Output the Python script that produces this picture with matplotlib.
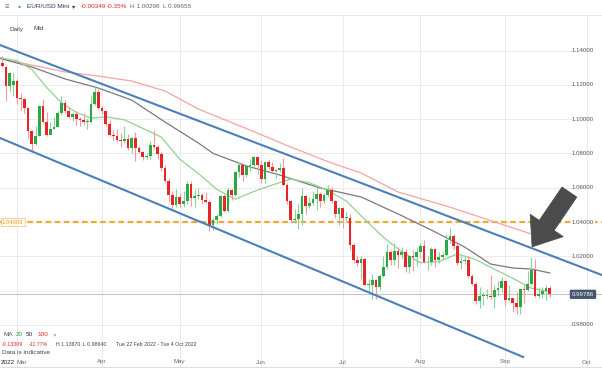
import numpy as np
import pandas as pd
import matplotlib
matplotlib.use("Agg")
import matplotlib.pyplot as plt
import matplotlib.transforms as mtransforms
from matplotlib.patches import Polygon

plt.rcParams['font.family'] = ['Liberation Sans', 'DejaVu Sans']

#
# EUR/USD Mini, daily candles with 20/50/100 MAs and a falling channel
#

# trading days shown on the axis (22 Feb -> 4 Oct 2022), candles stop at 19 Sep
axis_dates = pd.bdate_range("2022-02-22", "2022-10-04")

open_ = [1.1310, 1.1330, 1.1305, 1.1195, 1.1200,
         1.1220, 1.1125, 1.1120, 1.1065, 1.0930, 1.0855, 1.0900, 1.1075, 1.0985, 1.0910,
         1.0940, 1.0955, 1.1035, 1.1095, 1.1050, 1.1015, 1.1030, 1.1000, 1.0995, 1.0985, 1.0985,
         1.1090, 1.1160,
         1.1065, 1.1045, 1.0970, 1.0905, 1.0900, 1.0880, 1.0875, 1.0885, 1.0830, 1.0890, 1.0830,
         1.0810, 1.0780, 1.0785, 1.0850, 1.0835, 1.0795, 1.0715, 1.0640, 1.0560, 1.0500,
         1.0545, 1.0505, 1.0525, 1.0620, 1.0540, 1.0550, 1.0560, 1.0530, 1.0515, 1.0380, 1.0410,
         1.0435, 1.0550, 1.0465, 1.0585, 1.0560, 1.0690, 1.0735, 1.0675, 1.0725, 1.0735, 1.0780,
         1.0735, 1.0650, 1.0750, 1.0720, 1.0695, 1.0705, 1.0715, 1.0615, 1.0520, 1.0410, 1.0415,
         1.0445, 1.0550, 1.0495, 1.0510, 1.0535, 1.0565, 1.0520, 1.0555, 1.0585, 1.0520, 1.0445,
         1.0480, 1.0425, 1.0425, 1.0265, 1.0180, 1.0160, 1.0185, 1.0035, 1.0035, 1.0060, 1.0020,
         1.0085, 1.0140, 1.0225, 1.0180, 1.0230, 1.0210, 1.0225, 1.0135, 1.0200, 1.0195,
         1.0225, 1.0260, 1.0165, 1.0165, 1.0245, 1.0180, 1.0195, 1.0210, 1.0295, 1.0320, 1.0260,
         1.0160, 1.0170, 1.0180, 1.0085, 1.0040, 0.9940, 0.9970, 0.9970, 0.9970, 0.9965, 1.0005,
         1.0015,
         1.0055, 0.9945, 0.9955, 0.9930, 0.9905, 1.0010, 1.0005, 1.0040, 1.0120, 0.9970, 0.9980,
         0.9995, 1.0013]

high = [1.1360, 1.1367, 1.1310, 1.1275, 1.1270,
        1.1235, 1.1150, 1.1125, 1.1070, 1.0935, 1.0960, 1.1080, 1.1120, 1.1040, 1.0985,
        1.1015, 1.1045, 1.1135, 1.1110, 1.1070, 1.1040, 1.1045, 1.1015, 1.1035, 1.1000, 1.1135,
        1.1185, 1.1175,
        1.1075, 1.1050, 1.0995, 1.0935, 1.0940, 1.0920, 1.0960, 1.0915, 1.0895, 1.0925, 1.0845,
        1.0815, 1.0800, 1.0870, 1.0935, 1.0850, 1.0810, 1.0730, 1.0655, 1.0580, 1.0590,
        1.0570, 1.0580, 1.0640, 1.0640, 1.0590, 1.0600, 1.0570, 1.0575, 1.0530, 1.0425, 1.0445,
        1.0555, 1.0565, 1.0600, 1.0595, 1.0695, 1.0750, 1.0740, 1.0735, 1.0765, 1.0787, 1.0785,
        1.0760, 1.0750, 1.0765, 1.0750, 1.0710, 1.0745, 1.0775, 1.0625, 1.0530, 1.0475, 1.0505,
        1.0600, 1.0560, 1.0545, 1.0580, 1.0605, 1.0575, 1.0570, 1.0615, 1.0605, 1.0530, 1.0490,
        1.0485, 1.0460, 1.0445, 1.0275, 1.0210, 1.0200, 1.0190, 1.0065, 1.0095, 1.0070, 1.0095,
        1.0200, 1.0270, 1.0235, 1.0280, 1.0255, 1.0255, 1.0245, 1.0210, 1.0235, 1.0255,
        1.0275, 1.0295, 1.0200, 1.0255, 1.0250, 1.0225, 1.0225, 1.0330, 1.0368, 1.0330, 1.0270,
        1.0200, 1.0200, 1.0200, 1.0095, 1.0050, 1.0020, 0.9990, 1.0010, 1.0090, 1.0030, 1.0055,
        1.0080,
        1.0055, 1.0035, 0.9960, 0.9990, 1.0010, 1.0030, 1.0115, 1.0198, 1.0185, 1.0020, 1.0020,
        1.0035, 1.00298]

low = [1.1290, 1.1305, 1.1106, 1.1160, 1.1135,
       1.1090, 1.1055, 1.1035, 1.0890, 1.0806, 1.0850, 1.0900, 1.0980, 1.0900, 1.0920,
       1.0945, 1.0960, 1.1025, 1.1035, 1.1005, 1.0990, 1.0965, 1.0960, 1.0965, 1.0945, 1.0980,
       1.1080, 1.1060,
       1.1030, 1.0960, 1.0900, 1.0880, 1.0875, 1.0835, 1.0860, 1.0820, 1.0805, 1.0757, 1.0800,
       1.0760, 1.0765, 1.0770, 1.0825, 1.0770, 1.0700, 1.0630, 1.0515, 1.0470, 1.0490,
       1.0490, 1.0490, 1.0505, 1.0495, 1.0485, 1.0535, 1.0505, 1.0510, 1.0350, 1.0355, 1.0390,
       1.0430, 1.0460, 1.0460, 1.0530, 1.0550, 1.0660, 1.0640, 1.0660, 1.0700, 1.0720, 1.0680,
       1.0625, 1.0630, 1.0710, 1.0690, 1.0655, 1.0690, 1.0610, 1.0505, 1.0400, 1.0395, 1.0359,
       1.0380, 1.0445, 1.0480, 1.0500, 1.0470, 1.0485, 1.0510, 1.0545, 1.0510, 1.0425, 1.0380,
       1.0365, 1.0410, 1.0235, 1.0160, 1.0145, 1.0070, 1.0030, 0.9999, 0.9952, 0.9952, 1.0005,
       1.0080, 1.0125, 1.0150, 1.0150, 1.0130, 1.0185, 1.0110, 1.0100, 1.0115, 1.0145,
       1.0190, 1.0160, 1.0120, 1.0150, 1.0140, 1.0160, 1.0185, 1.0200, 1.0280, 1.0240, 1.0150,
       1.0125, 1.0155, 1.0075, 1.0035, 0.9925, 0.9900, 0.9915, 0.9950, 0.9950, 0.9900, 0.9970,
       0.9990,
       0.9910, 0.9940, 0.9876, 0.9865, 0.9864, 0.9930, 1.0000, 1.0040, 0.9965, 0.9955, 0.9955,
       0.9945, 0.99655]

close = [1.1330, 1.1310, 1.1195, 1.1270, 1.1220,
         1.1125, 1.1120, 1.1065, 1.0930, 1.0855, 1.0900, 1.1075, 1.0985, 1.0910, 1.0940,
         1.0955, 1.1035, 1.1095, 1.1050, 1.1015, 1.1030, 1.1000, 1.0995, 1.0985, 1.0985, 1.1090,
         1.1160, 1.1065,
         1.1045, 1.0970, 1.0905, 1.0900, 1.0880, 1.0875, 1.0885, 1.0830, 1.0890, 1.0830, 1.0810,
         1.0780, 1.0785, 1.0850, 1.0835, 1.0795, 1.0715, 1.0640, 1.0560, 1.0500, 1.0545,
         1.0505, 1.0525, 1.0620, 1.0540, 1.0550, 1.0560, 1.0530, 1.0515, 1.0380, 1.0410, 1.0435,
         1.0550, 1.0465, 1.0585, 1.0560, 1.0690, 1.0735, 1.0675, 1.0725, 1.0735, 1.0780, 1.0735,
         1.0650, 1.0750, 1.0720, 1.0695, 1.0705, 1.0715, 1.0615, 1.0520, 1.0410, 1.0415, 1.0445,
         1.0550, 1.0495, 1.0510, 1.0535, 1.0565, 1.0520, 1.0555, 1.0585, 1.0520, 1.0445, 1.0480,
         1.0425, 1.0425, 1.0265, 1.0180, 1.0160, 1.0185, 1.0035, 1.0035, 1.0060, 1.0020, 1.0085,
         1.0140, 1.0225, 1.0180, 1.0230, 1.0210, 1.0225, 1.0135, 1.0200, 1.0195, 1.0225,
         1.0260, 1.0165, 1.0165, 1.0245, 1.0180, 1.0195, 1.0210, 1.0295, 1.0320, 1.0260, 1.0160,
         1.0170, 1.0180, 1.0085, 1.0040, 0.9940, 0.9970, 0.9970, 0.9970, 0.9965, 1.0005, 1.0015,
         1.0055,
         0.9945, 0.9955, 0.9930, 0.9905, 1.0010, 1.0005, 1.0040, 1.0120, 0.9970, 0.9980, 0.9995,
         1.0013, 0.99786]

# moving averages (trading-day index, price)
ma20_idx = [0, 5, 9, 13, 17, 21, 25, 29, 34, 39, 44, 49, 54, 59, 64, 69, 74, 79, 84, 89,
            94, 99, 104, 109, 114, 119, 124, 129, 134, 139, 144, 149]
ma20_val = [1.1360, 1.1340, 1.1290, 1.1185, 1.1095, 1.1040, 1.1005, 1.1014, 1.0996, 1.0946,
            1.0895, 1.0766, 1.0683, 1.0590, 1.0533, 1.0578, 1.0616, 1.0651, 1.0629, 1.0585,
            1.0522, 1.0415, 1.0311, 1.0227, 1.0163, 1.0169, 1.0214, 1.0181, 1.0125, 1.0072,
            1.0014, 0.9995]
ma50_idx = [0, 9, 18, 27, 36, 45, 54, 58, 67, 76, 87, 92, 98, 108, 117, 126, 133, 139, 144, 149]
ma50_val = [1.1356, 1.1304, 1.1234, 1.1181, 1.1111, 1.0983, 1.0861, 1.0800, 1.0727, 1.0674,
            1.0598, 1.0575, 1.0546, 1.0447, 1.0353, 1.0254, 1.0155, 1.0132, 1.0126, 1.0103]
ma100_idx = [0, 9, 18, 27, 36, 45, 54, 68, 79, 90, 98, 108, 122, 135, 149]
ma100_val = [1.1356, 1.1315, 1.1275, 1.1251, 1.1222, 1.1164, 1.1059, 1.0936, 1.0837, 1.0744,
             1.0686, 1.0575, 1.0487, 1.0394, 1.0295]

# drawn channel (start / end points)
upper_idx = [0.4, 163.1]
upper_val = [1.1432, 1.0091]
lower_idx = [0.4, 141.8]
lower_val = [1.0890, 0.9613]

level = 1.04
last_price = 0.99786
arrow_tail = (154.3, 1.0575)
arrow_tip = (144.2, 1.0255)

price_ticks = [1.14, 1.12, 1.10, 1.08, 1.06, 1.04, 1.02, 0.98]
months = ["Mar", "Apr", "May", "Jun", "Jul", "Aug", "Sep", "Oct"]

GREEN = '#2EA844'
RED = '#E5252A'

W, H = 602, 368
fig = plt.figure(figsize=(W / 100, H / 100), dpi=100)
fig.patch.set_facecolor('white')
ax = fig.add_axes([0, 0, 1, (H - 15) / H])
ax.set_xlim(0.405, 163.1)
ax.set_ylim(0.9549, 1.1607)
ax.axis('off')


def px(x, y):
    return x / W, 1 - y / H


# grid
for p in price_ticks + [1.00]:
    ax.axhline(p, xmin=0, xmax=0.95, color='#EBEBEB', lw=0.7, zorder=0)
month_pos = []
for m in range(3, 11):
    month_pos.append(int(np.argmax(axis_dates.month == m)))
for mp in month_pos:
    ax.axvline(mp, color='#EBEBEB', lw=0.7, zorder=0)

# support level
ax.axhline(level, color='#F0A830', lw=1.6, ls=(0, (2.5, 1.6)), zorder=1)

# moving averages
ax.plot(ma100_idx, ma100_val, color='#F5A3A3', lw=0.9, zorder=2)
ax.plot(ma50_idx, ma50_val, color='#7A7A7A', lw=0.9, zorder=2)
ax.plot(ma20_idx, ma20_val, color='#92D392', lw=0.9, zorder=2)

# last price line
ax.axhline(last_price, color='#C4C4C4', lw=0.8, zorder=2)

# candles
o = np.array(open_)
c = np.array(close)
hi = np.array(high)
lo = np.array(low)
x = np.arange(len(c))
up = c >= o
ax.vlines(x[up], lo[up], hi[up], color='#8CD39A', lw=0.8, zorder=3)
ax.vlines(x[~up], lo[~up], hi[~up], color='#F29A9C', lw=0.8, zorder=3)
body = np.maximum(np.abs(c - o), 0.0004)
ax.bar(x, body, bottom=np.minimum(o, c), width=0.72,
       color=np.where(up, GREEN, RED), lw=0, zorder=4)

# channel
ax.plot(upper_idx, upper_val, color='#4A80B8', lw=1.5, zorder=5)
ax.plot(lower_idx, lower_val, color='#4A80B8', lw=1.5, zorder=5)

# arrow pointing at the upper channel line
fig.canvas.draw()
t = ax.transData.transform(arrow_tail)
p = ax.transData.transform(arrow_tip)
u = (p - t) / np.hypot(*(p - t))
n = np.array([-u[1], u[0]])
b = p - u * 26
pts = [t + n * 9, b + n * 9, b + n * 20, p, b - n * 20, b - n * 9, t - n * 9]
ax.add_patch(Polygon(pts, closed=True, transform=mtransforms.IdentityTransform(),
                     fc='#4B4B4B', ec='#4B4B4B', lw=0.5, zorder=7))

# right price scale
tr = mtransforms.blended_transform_factory(ax.transAxes, ax.transData)
for pt in price_ticks:
    ax.text(572 / W, pt, f"{pt:.5f}", transform=tr, fontsize=4.4, color='#555555',
            va='center', ha='left', zorder=8,
            bbox=dict(fc='white', ec='none', pad=0.6) if pt == level else None)
ax.text(583 / W, last_price, f"{last_price:.5f}", transform=tr, fontsize=4.4, color='white',
        va='center', ha='center', zorder=9,
        bbox=dict(boxstyle='round,pad=0.35,rounding_size=0.2', fc='#45566E', ec='none'))
ax.text(2 / W, level, "1.04003", transform=tr, fontsize=4.2, color='#E8A030',
        va='center', ha='left', zorder=9,
        bbox=dict(fc='#FFF8EC', ec='#F0C070', lw=0.5, pad=1.0))

# header
fig.add_artist(plt.Line2D([0, 1], [1 - 15 / H] * 2, color='#E6E6E6', lw=0.7))
hdr = dict(fontsize=4.6, va='center', ha='left', transform=fig.transFigure)
fig.text(*px(5, 7), "≡", color='#777777', **dict(hdr, fontsize=5.5))
fig.text(*px(18, 7), "●", color=GREEN, **dict(hdr, fontsize=3.8))
fig.text(*px(27, 7), "EUR/USD Mini", color='#2B3A5C', **hdr)
fig.text(*px(72, 7), "▾", color='#2B3A5C', **hdr)
fig.text(*px(81, 7), "-0.00349", color=RED, **hdr)
fig.text(*px(107, 7), "-0.35%", color=RED, **hdr)
fig.text(*px(130, 7), "H 1.00298  L 0.99655", color='#666666', **hdr)
fig.text(*px(10, 29), "Daily", color='#444444', **hdr)
fig.text(*px(33, 29), "Mid", color='#444444', **hdr)

# legend block bottom-left
fig.text(*px(4, 335), "MA", color='#555555', **hdr)
fig.text(*px(16, 335), "20", color=GREEN, **hdr)
fig.text(*px(26, 335), "50", color='#333333', **hdr)
fig.text(*px(37, 335), "100", color=RED, **hdr)
fig.text(*px(53, 335), "×", color='#777777', **hdr)
small = dict(hdr, fontsize=3.8)
fig.text(*px(2, 344), "-0.13309", color=RED, **small)
fig.text(*px(29, 344), "-11.77%", color=RED, **small)
fig.text(*px(56, 344), "H 1.13670", color='#444444', **small)
fig.text(*px(83, 344), "L 0.98640", color='#444444', **small)
fig.text(*px(116, 344), "Tue 22 Feb 2022 - Tue 4 Oct 2022", color='#444444', **small)
fig.text(*px(2, 353), "Data is indicative", color='#444444', **hdr)

# month labels along the bottom ("Mar" sits just right of the year tag)
trm = mtransforms.blended_transform_factory(ax.transData, fig.transFigure)
for mp, name in zip(month_pos, months):
    xpos = mp + 1.2 if name == "Mar" else mp
    ax.text(xpos, 1 - 362 / H, name, transform=trm, fontsize=4.4, color='#666666',
            ha='center', va='center', zorder=8)
fig.text(*px(0.5, 362), "2022", color='#222222', zorder=10, **dict(hdr, fontsize=4.6))
fig.add_artist(plt.Line2D([0, 1], [1 - 366.5 / H] * 2, color='#DDDDDD', lw=0.7))

fig.savefig("out.png", dpi=100)
